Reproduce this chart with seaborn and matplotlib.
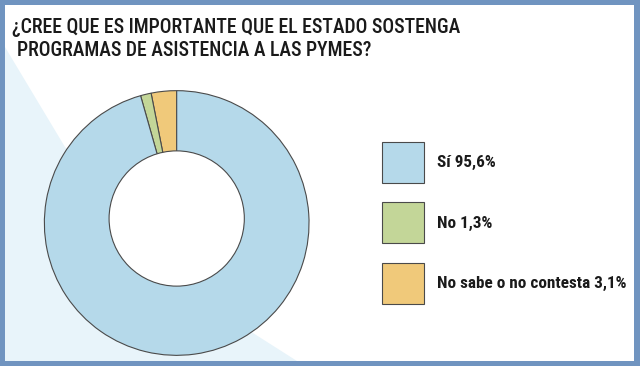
import matplotlib
matplotlib.use('Agg')
import matplotlib.pyplot as plt
import seaborn as sns
from matplotlib.patches import Rectangle, Polygon, Circle

# ---- data ----
labels  = ["Sí", "No", "No sabe o no contesta"]
values  = [95.6, 1.3, 3.1]
colors  = ["#B5D9EA", "#C3D698", "#F0C97A"]
title_1 = "¿CREE QUE ES IMPORTANTE QUE EL ESTADO SOSTENGA"
title_2 = "PROGRAMAS DE ASISTENCIA A LAS PYMES?"

sns.set_theme(style="white")
plt.rcParams['font.family'] = ['Roboto Condensed', 'DejaVu Sans']

W, H = 640, 366
fig = plt.figure(figsize=(W / 100, H / 100), dpi=100)
fig.patch.set_facecolor("white")
renderer = fig.canvas.get_renderer()

def px(x, y):
    # pixel coords from top-left -> figure fraction
    return (x / W, 1 - y / H)

# light diagonal background shape
shape = [px(5, 47), px(65, 147), px(160, 243), px(253, 333), px(297, 361), px(5, 361)]
fig.patches.append(Polygon(shape, closed=True, transform=fig.transFigure,
                           facecolor="#E8F4FA", edgecolor="none", zorder=-5))

# blue frame
border = "#7094C0"
for x0, y0, w, h in [(0, 0, 640, 5), (0, 361, 640, 5), (0, 0, 5, 366), (634, 0, 6, 366)]:
    fig.patches.append(Rectangle(px(x0, y0 + h), w / W, h / H, transform=fig.transFigure,
                                 facecolor=border, edgecolor="none", zorder=-4))

# titles - fit first line to ~451 px wide
t1 = fig.text(*px(12, 33), title_1, fontsize=15, weight=500, color="#1a1a1a",
              ha="left", va="baseline")
t2 = fig.text(*px(17, 56), title_2, fontsize=15, weight=500, color="#1a1a1a",
              ha="left", va="baseline")
fs = 15 * 451 / t1.get_window_extent(renderer).width
t1.set_fontsize(fs)
t2.set_fontsize(fs)

# donut
cx, cy, r = 176.7, 223, 133
ax = fig.add_axes([(cx - r) / W, (H - cy - r) / H, 2 * r / W, 2 * r / H])
order = [2, 1, 0]  # drawn counter-clockwise from top: no sabe, no, si
wedges, _ = ax.pie([values[i] for i in order], colors=[colors[i] for i in order],
                   startangle=90, counterclock=True,
                   wedgeprops=dict(edgecolor="#4a4a4a", linewidth=0.8))
ax.add_patch(Circle((0, 0.034), 0.511, facecolor="white", edgecolor="#4a4a4a", linewidth=0.8))
ax.set_xlim(-1.005, 1.005)
ax.set_ylim(-1.005, 1.005)
ax.axis("off")

# legend: fit longest label to ~188 px, sizes in px converted to font units
legend_labels = [f"{labels[i]} {values[i]:.1f}%".replace(".", ",") for i in range(3)]
probe = fig.text(0, 0, legend_labels[2], fontsize=13, weight="bold")
leg_pt = 13 * 188 / probe.get_window_extent(renderer).width
probe.remove()
f = leg_pt * 100 / 72
box_w, box_h = 42, 41
handles = [wedges[order.index(i)] for i in range(3)]
fig.legend(handles, legend_labels, loc="upper left", bbox_to_anchor=px(382, 142),
           bbox_transform=fig.transFigure, frameon=False, borderpad=0, borderaxespad=0,
           prop=dict(size=leg_pt, weight="bold"),
           handlelength=box_w / f, handleheight=(box_h / f - 0.245) / 0.65,
           handletextpad=13 / f, labelspacing=19.5 / f, labelcolor="#1a1a1a")

fig.savefig("out.png", dpi=100)
